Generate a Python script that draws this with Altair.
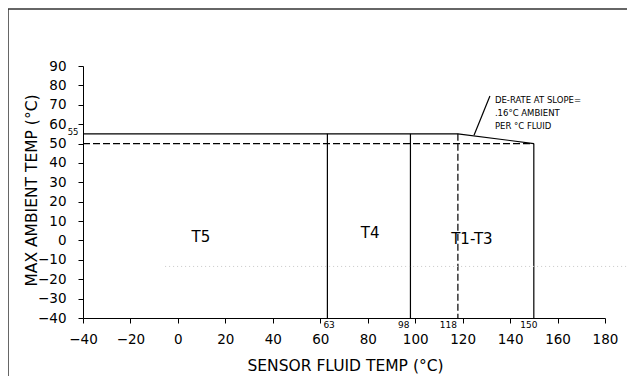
import altair as alt
import pandas as pd

# ---- data ----
x_ticks = list(range(-40, 181, 20))
y_ticks = list(range(-40, 91, 10))

# solid boundary segments
solid_seg = ["derate", "derate", "derate", "v150", "v150", "v63", "v63", "v98", "v98"]
solid_x = [-40, 118, 150, 150, 150, 63, 63, 98, 98]
solid_y = [55, 55, 50, 50, -40, 55, -40, 55, -40]
solid_o = [0, 1, 2, 0, 1, 0, 1, 0, 1]

# dashed segments
dash_seg = ["h50", "h50", "v118", "v118"]
dash_x = [-40, 150, 118, 118]
dash_y = [50, 50, 55, -40]
dash_o = [0, 1, 0, 1]

# leader line of the annotation
lead_x = [124.8, 131.5]
lead_y = [54.3, 74.5]

# zone labels
zone_text = ["T5", "T4", "T1-T3"]
zone_x = [9.7, 81, 123.9]
zone_y = [1.6, 3.7, 1.0]

# boundary value labels
bnd_text = ["63", "98", "118", "150"]
bnd_x = [63, 98, 118, 150]
bnd_y = [-43.4, -43.4, -43.4, -43.4]
bnd_align = ["left", "right", "right", "center"]
bnd_dx = [-4, -1, -1, -5]

# annotation text
note_text = ["DE-RATE AT SLOPE=", ".16\u00b0C AMBIENT", "PER \u00b0C FLUID"]
note_x = [133.6, 133.6, 133.6]
note_y = [72.4, 65.7, 59.0]

# faint scan line
scan_x = [-5.4, 190]
scan_y = [-13.4, -13.4]

FONT = "DejaVu Sans"

xs = alt.Scale(domain=[-40, 180], nice=False, zero=False)
ys = alt.Scale(domain=[-40, 90], nice=False, zero=False)

x_axis = alt.Axis(
    values=x_ticks, title="SENSOR FLUID TEMP (\u00b0C)", grid=False,
    tickSize=5, labelPadding=9, labelFlush=False, labelOverlap=False,
    titleX=262, titleY=47, titleBaseline="middle",
    titleAlign="center", titleFontSize=15.5, titleFontWeight="normal",
    labelFontSize=13.5, labelFont=FONT, titleFont=FONT,
    domainColor="black", tickColor="black", labelColor="black", titleColor="black")
y_axis = alt.Axis(
    values=y_ticks, title="MAX AMBIENT TEMP (\u00b0C)", grid=False,
    tickSize=5, labelPadding=12, labelFlush=False, labelOverlap=False,
    titleX=-52, titleY=124, titleBaseline="middle",
    titleAlign="center", titleAngle=270, titleFontSize=15.5, titleFontWeight="normal",
    labelFontSize=13.5, labelFont=FONT, titleFont=FONT,
    domainColor="black", tickColor="black", labelColor="black", titleColor="black")


def X():
    return alt.X("x:Q", scale=xs, axis=x_axis)


def Y():
    return alt.Y("y:Q", scale=ys, axis=y_axis)


solid_df = pd.DataFrame({"seg": solid_seg, "x": solid_x, "y": solid_y, "o": solid_o})
dash_df = pd.DataFrame({"seg": dash_seg, "x": dash_x, "y": dash_y, "o": dash_o})

solid = alt.Chart(solid_df).mark_line(color="black", strokeWidth=1.2).encode(
    x=X(), y=Y(), detail="seg:N", order="o:Q")

dashed = alt.Chart(dash_df).mark_line(color="black", strokeWidth=1.2, strokeDash=[7, 3]).encode(
    x=X(), y=Y(), detail="seg:N", order="o:Q")

scan = alt.Chart(pd.DataFrame({"x": scan_x, "y": scan_y})).mark_line(
    color="#c8c8c8", strokeWidth=1, strokeDash=[1, 3]).encode(x=X(), y=Y())

leader = alt.Chart(pd.DataFrame({"x": lead_x, "y": lead_y})).mark_line(
    color="black", strokeWidth=1.2).encode(x=X(), y=Y())

zones = alt.Chart(pd.DataFrame({"t": zone_text, "x": zone_x, "y": zone_y})).mark_text(
    font=FONT, fontSize=15, color="black", align="center", baseline="middle").encode(
    x=X(), y=Y(), text="t:N")

bnd_layers = []
for t, xv, yv, al, dx in zip(bnd_text, bnd_x, bnd_y, bnd_align, bnd_dx):
    bnd_layers.append(alt.Chart(pd.DataFrame({"t": [t], "x": [xv], "y": [yv]})).mark_text(
        font=FONT, fontSize=9, color="black", align=al, baseline="middle", dx=dx).encode(
        x=X(), y=Y(), text="t:N"))

lab55 = alt.Chart(pd.DataFrame({"t": ["55"], "x": [-44.2], "y": [56.2]})).mark_text(
    font=FONT, fontSize=8.5, color="black", align="center", baseline="middle").encode(
    x=X(), y=Y(), text="t:N")

notes = alt.Chart(pd.DataFrame({"t": note_text, "x": note_x, "y": note_y})).mark_text(
    font=FONT, fontSize=8.5, color="black", align="left", baseline="middle").encode(
    x=X(), y=Y(), text="t:N")

border_left = alt.Chart(pd.DataFrame({"a": [0]})).mark_rule(color="#333", strokeWidth=1.5).encode(
    x=alt.value(-75), y=alt.value(-57), y2=alt.value(312))
border_top = alt.Chart(pd.DataFrame({"a": [0]})).mark_rule(color="#333", strokeWidth=1.5).encode(
    x=alt.value(-75), x2=alt.value(547), y=alt.value(-57))

chart = alt.layer(solid, dashed, scan, leader, zones, *bnd_layers, lab55, notes,
                  border_left, border_top).properties(
    width=522, height=252,
    autosize=alt.AutoSizeParams(type="none"),
    padding={"left": 75, "top": 58, "right": 22, "bottom": 58},
).configure_view(strokeWidth=0)

chart.save("out.html", embed_options={"renderer": "svg", "actions": False})
